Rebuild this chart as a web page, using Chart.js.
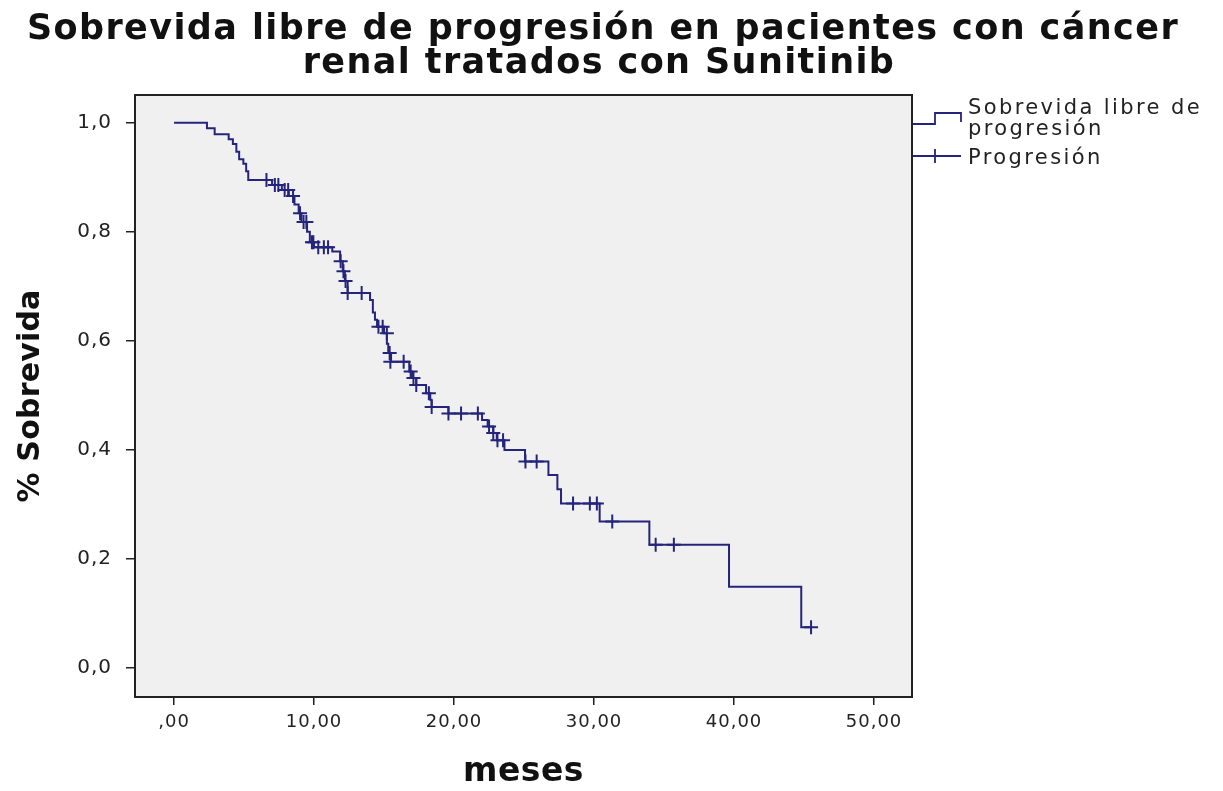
<!DOCTYPE html>
<html>
<head>
<meta charset="utf-8">
<script src="https://cdn.jsdelivr.net/npm/chart.js@4.4.1/dist/chart.umd.min.js"></script>
<style>
  html, body { margin: 0; padding: 0; background: #fff; }
  #wrap { width: 1223px; height: 791px; }
</style>
</head>
<body>
<div id="wrap"><canvas id="kmchart" width="1223" height="791"></canvas></div>
<script>
// Kaplan-Meier steps: time (months) where the curve drops, and survival after the drop
const eventTimes = [0, 2.35, 2.9, 3.9, 4.2, 4.45, 4.65, 4.95, 5.15, 5.3, 7.0, 7.7, 8.2, 8.6, 8.9, 9.1, 9.5, 9.7, 10.0, 11.3,
    11.86, 12.05, 12.2, 12.4, 14.0, 14.2, 14.35, 14.5, 15.0, 15.2, 15.3, 15.5, 16.8, 17.0, 17.3, 18.0, 18.3, 18.4, 19.6,
    22.0, 22.4, 22.8, 23.05, 23.6, 25.07, 26.74, 27.38, 27.64, 30.4, 33.95, 39.64, 44.8, 45.5];
const survival = [1.0, 0.99, 0.979, 0.970, 0.961, 0.947, 0.933, 0.925, 0.911, 0.895, 0.886, 0.877, 0.866, 0.850, 0.834, 0.818, 0.800, 0.781, 0.772, 0.764,
    0.746, 0.728, 0.710, 0.688, 0.675, 0.652, 0.639, 0.626, 0.614, 0.595, 0.578, 0.562, 0.544, 0.532, 0.519, 0.504, 0.492, 0.479, 0.467,
    0.455, 0.443, 0.431, 0.418, 0.400, 0.379, 0.354, 0.328, 0.302, 0.269, 0.226, 0.149, 0.075, 0.075];

// censored cases (progresión marks)
const censorTimes = [6.6, 7.2, 7.45, 7.9, 8.15, 8.5, 9.0, 9.25, 9.45, 9.85, 9.95, 10.3, 10.7, 11.0, 11.9, 12.1, 12.25, 12.4, 13.4,
    14.6, 14.9, 15.2, 15.4, 15.45, 16.4, 16.9, 17.1, 17.3, 18.2, 18.4, 19.6, 20.5, 21.7, 22.5, 22.8, 23.1, 23.5,
    25.1, 25.9, 28.5, 29.7, 30.2, 31.3, 34.4, 35.7, 45.5];
const censorSurvival = [0.895, 0.886, 0.886, 0.877, 0.877, 0.866, 0.834, 0.818, 0.818, 0.781, 0.781, 0.772, 0.772, 0.772, 0.746, 0.728, 0.710, 0.688, 0.688,
    0.626, 0.626, 0.614, 0.578, 0.562, 0.562, 0.544, 0.532, 0.519, 0.504, 0.479, 0.467, 0.467, 0.467, 0.443, 0.431, 0.418, 0.418,
    0.379, 0.379, 0.302, 0.302, 0.302, 0.269, 0.226, 0.226, 0.075];

const xTicks = [0, 10, 20, 30, 40, 50];
const xTickLabels = [',00', '10,00', '20,00', '30,00', '40,00', '50,00'];
const yTicks = [0, 0.2, 0.4, 0.6, 0.8, 1.0];
const yTickLabels = ['0,0', '0,2', '0,4', '0,6', '0,8', '1,0'];

const titleLines = ['Sobrevida libre de progresión en pacientes con cáncer', 'renal tratados con Sunitinib'];
const xTitle = 'meses';
const yTitle = '% Sobrevida';
const legendLabels = ['Sobrevida libre de', 'progresión', 'Progresión'];

const lineColor = '#24247c';
const textColor = '#222222';

const plotFrame = {
    id: 'plotFrame',
    beforeDraw(chart) {
        // slightly wider tracking for the tick labels, like the original
        chart.ctx.letterSpacing = '1px';
    },
    beforeDatasetsDraw(chart) {
        const {ctx, chartArea: a} = chart;
        ctx.save();
        ctx.fillStyle = '#f0f0f0';
        ctx.fillRect(a.left, a.top, a.right - a.left, a.bottom - a.top);
        ctx.restore();
    },
    afterDraw(chart) {
        const {ctx, chartArea: a} = chart;
        ctx.save();
        ctx.strokeStyle = '#222';
        ctx.lineWidth = 2;
        ctx.strokeRect(a.left, a.top, a.right - a.left, a.bottom - a.top);

        // titles
        ctx.fillStyle = '#111';
        ctx.textAlign = 'center';
        ctx.textBaseline = 'middle';
        ctx.letterSpacing = '1.4px';
        ctx.font = 'bold 35px "DejaVu Sans"';
        ctx.fillText(titleLines[0], 603, 30);
        ctx.fillText(titleLines[1], 599, 64);

        ctx.letterSpacing = '0.5px';
        ctx.font = 'bold 33px "DejaVu Sans"';
        ctx.fillText(xTitle, (a.left + a.right) / 2, 772);
        ctx.save();
        ctx.translate(31, (a.top + a.bottom) / 2);
        ctx.rotate(-Math.PI / 2);
        ctx.letterSpacing = '0.2px';
        ctx.font = 'bold 30px "DejaVu Sans"';
        ctx.fillText(yTitle, 0, 0);
        ctx.restore();

        // legend at the right of the plot
        const x0 = a.right + 1;
        ctx.strokeStyle = lineColor;
        ctx.lineWidth = 1.8;
        ctx.beginPath();
        ctx.moveTo(x0, 124);
        ctx.lineTo(935, 124);
        ctx.lineTo(935, 113);
        ctx.lineTo(961, 113);
        ctx.lineTo(961, 122);
        ctx.stroke();
        ctx.beginPath();
        ctx.moveTo(x0, 156);
        ctx.lineTo(961, 156);
        ctx.moveTo(935, 149);
        ctx.lineTo(935, 163);
        ctx.stroke();

        ctx.fillStyle = textColor;
        ctx.letterSpacing = '2.4px';
        ctx.font = '21px "DejaVu Sans"';
        ctx.textAlign = 'left';
        ctx.fillText(legendLabels[0], 968, 109);
        ctx.fillText(legendLabels[1], 968, 130);
        ctx.fillText(legendLabels[2], 968, 159);
        ctx.restore();
    }
};

const ctx = document.getElementById('kmchart').getContext('2d');

const data = {
    datasets: [
        {
            label: 'Sobrevida libre de progresión',
            data: eventTimes.map((t, i) => ({x: t, y: survival[i]})),
            borderColor: lineColor,
            borderWidth: 2,
            stepped: 'before',
            pointRadius: 0,
            fill: false
        },
        {
            label: 'Progresión',
            type: 'scatter',
            data: censorTimes.map((t, i) => ({x: t, y: censorSurvival[i]})),
            pointStyle: 'cross',
            pointRadius: 7,
            borderColor: lineColor,
            pointBorderWidth: 2,
            showLine: false
        }
    ]
};

const options = {
    responsive: false,
    animation: false,
    layout: {
        padding: {left: 0, right: 311, top: 95, bottom: 0}
    },
    plugins: {
        legend: {display: false},
        tooltip: {enabled: false},
        title: {display: false}
    },
    scales: {
        x: {
            type: 'linear',
            min: -2.79,
            max: 52.71,
            afterFit: function(scale) { scale.height = 94; },
            afterBuildTicks: function(scale) {
                scale.ticks = xTicks.map(v => ({value: v}));
            },
            ticks: {
                color: textColor,
                font: {family: '"DejaVu Sans"', size: 18},
                padding: 7,
                maxRotation: 0,
                callback: function(value) {
                    return xTickLabels[xTicks.indexOf(value)];
                }
            },
            grid: {drawOnChartArea: false, drawTicks: true, tickLength: 8, color: '#222', lineWidth: 1.5},
            border: {display: true, color: '#222', width: 2}
        },
        y: {
            type: 'linear',
            min: -0.053,
            max: 1.051,
            afterFit: function(scale) { scale.width = 135; },
            afterBuildTicks: function(scale) {
                scale.ticks = yTicks.map(v => ({value: v}));
            },
            ticks: {
                color: textColor,
                font: {family: '"DejaVu Sans"', size: 20},
                padding: 14,
                callback: function(value) {
                    return yTickLabels[yTicks.indexOf(value)];
                }
            },
            grid: {drawOnChartArea: false, drawTicks: true, tickLength: 9, color: '#222', lineWidth: 1.5},
            border: {display: true, color: '#222', width: 2}
        }
    }
};

const chart = new Chart(ctx, {
    type: 'line',
    data: data,
    options: options,
    plugins: [plotFrame]
});
</script>
</body>
</html>
